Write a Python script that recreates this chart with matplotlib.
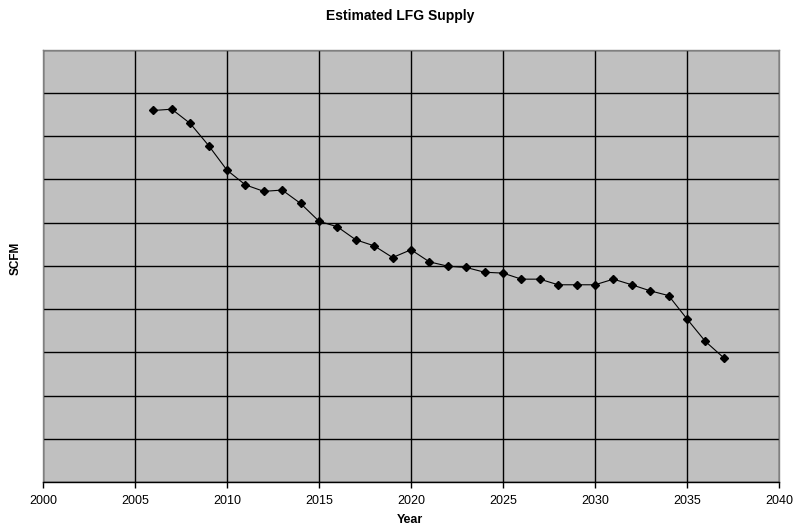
import matplotlib
matplotlib.use("Agg")
import matplotlib.pyplot as plt

years = list(range(2006, 2038))
scfm = [859, 862, 829, 778, 721, 687, 672, 675, 644, 603, 590, 560, 546, 519,
        537, 509, 499, 496, 485, 483, 469, 469, 456, 456, 456, 469, 456, 442,
        431, 377, 325, 287]
x_ticks = [2000, 2005, 2010, 2015, 2020, 2025, 2030, 2035, 2040]
y_grid = list(range(0, 1001, 100))

plt.rcParams['font.family'] = ['Liberation Sans', 'DejaVu Sans']
fig = plt.figure(figsize=(7.94, 5.27), dpi=100)
ax = fig.add_axes([43/794, 1-482/527, (779-43)/794, (482-49.5)/527])
ax.set_facecolor('#C0C0C0')
ax.set_xlim(2000, 2040)
ax.set_ylim(0, 1000)
ax.set_xticks(x_ticks)
ax.set_yticks(y_grid)
ax.set_yticklabels([])
ax.tick_params(axis='y', length=0)
ax.tick_params(axis='x', length=4, width=1, color='black', labelsize=9, pad=5)
ax.grid(True, color='black', linewidth=1)
ax.set_axisbelow(True)
for s in ['top', 'left', 'right']:
    ax.spines[s].set_color('#808080')
    ax.spines[s].set_linewidth(1)
ax.spines['bottom'].set_color('black')
ax.spines['bottom'].set_linewidth(1)

ax.plot(years, scfm, color='black', linewidth=0.8, marker='D', markersize=4.5,
        markerfacecolor='black', markeredgecolor='black', zorder=3)

fig.text(400/794, 1-16/527, 'Estimated LFG Supply', ha='center', va='center',
         fontsize=10, fontweight='bold')
fig.text(16/794, 1-258/527, 'SCFM', ha='center', va='center', rotation=90,
         fontsize=8.5, fontweight='bold')
fig.text(410/794, 1-520/527, 'Year', ha='center', va='center',
         fontsize=9, fontweight='bold')

fig.savefig('out.png', dpi=100, facecolor='white')
